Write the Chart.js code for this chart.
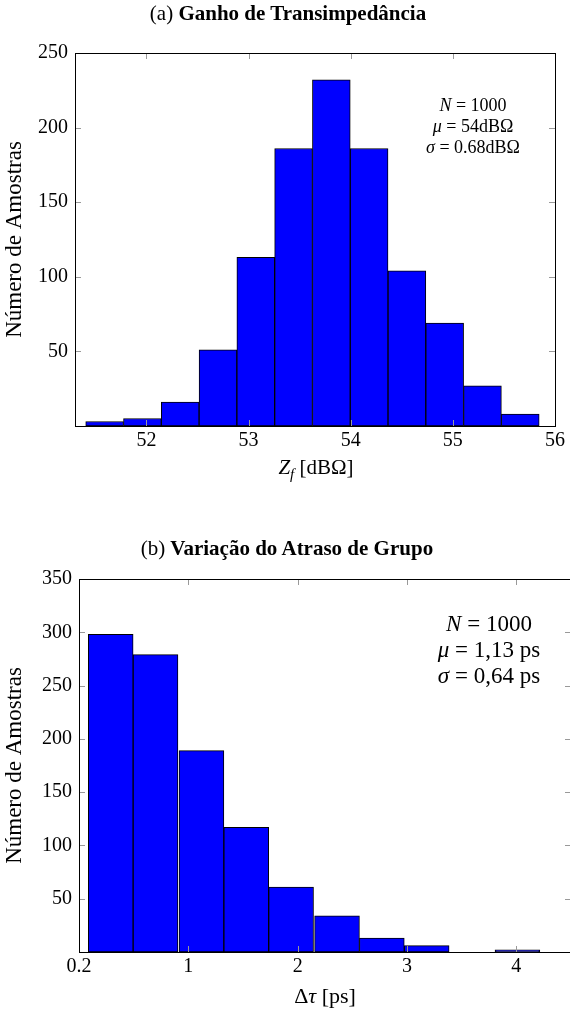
<!DOCTYPE html>
<html>
<head>
<meta charset="utf-8">
<script src="https://cdn.jsdelivr.net/npm/chart.js@4"></script>
<style>
  body { margin: 0; width: 570px; height: 1014px; overflow: hidden; background: #fff; position: relative; font-family: 'Liberation Serif', serif; }
  .box { position: absolute; left: 0; }
  .txt { position: absolute; color: #000; white-space: nowrap; transform: translate(-50%, -50%); font-size: 21px; }
  .title { font-weight: bold; font-size: 21px; }
  .title span { font-weight: normal; }
  .note { text-align: center; }
</style>
</head>
<body>
<div class="box" style="top:0; width:570px; height:500px;"><canvas id="gain"></canvas></div>
<div class="box" style="top:500px; width:580px; height:514px;"><canvas id="delay"></canvas></div>

<div class="txt title" style="left:288px; top:13px;"><span>(a)</span> Ganho de Transimpedância</div>
<div class="txt" style="left:316px; top:469px;"><i>Z</i><sub style="font-size:15px;"><i>f</i></sub> [dBΩ]</div>
<div class="txt note" style="left:473px; top:126px; font-size:18px; line-height:21px;"><i>N</i> = 1000<br><i>μ</i> = 54dBΩ<br><i>σ</i> = 0.68dBΩ</div>

<div class="txt title" style="left:287px; top:548px;"><span>(b)</span> Variação do Atraso de Grupo</div>
<div class="txt" style="left:325px; top:996px; font-size:22px;">Δ<i>τ</i> [ps]</div>
<div class="txt note" style="left:489px; top:650px; font-size:23px; line-height:26px;"><i>N</i> = 1000<br><i>μ</i> = 1,13 ps<br><i>σ</i> = 0,64 ps</div>

<script>
// (a) transimpedance gain histogram
const gainCenters = [51.59, 51.96, 52.33, 52.70, 53.07, 53.44, 53.81, 54.18, 54.55, 54.92, 55.29, 55.66];
const gainCounts = [3, 5, 16, 51, 113, 186, 232, 186, 104, 69, 27, 8];
const gainTicksX = [52, 53, 54, 55, 56];
const gainTickLabelsX = ['52', '53', '54', '55', '56'];
const gainTicksY = [50, 100, 150, 200, 250];

// (b) group delay variation histogram
const delayCenters = [0.29, 0.70, 1.12, 1.53, 1.94, 2.36, 2.77, 3.18, 3.59, 4.01];
const delayCounts = [298, 279, 189, 117, 61, 34, 13, 6, 0, 2];
const delayTicksX = [0, 1, 2, 3, 4];
const delayTickLabelsX = ['0.2', '1', '2', '3', '4'];
const delayTicksY = [50, 100, 150, 200, 250, 300, 350];

Chart.defaults.font.family = "'Liberation Serif', serif";
Chart.defaults.font.size = 20;
Chart.defaults.color = '#000';

// pgfplots-like frame with inward ticks on all four sides
const frameTicks = {
    id: 'frameTicks',
    afterDraw(chart) {
        const { ctx, chartArea: a, scales: { x, y } } = chart;
        const len = 6;
        ctx.save();
        ctx.strokeStyle = '#999';
        ctx.lineWidth = 1;
        ctx.beginPath();
        x.ticks.forEach(t => {
            const px = Math.round(x.getPixelForValue(t.value)) + 0.5;
            ctx.moveTo(px, a.bottom); ctx.lineTo(px, a.bottom - len);
            ctx.moveTo(px, a.top); ctx.lineTo(px, a.top + len);
        });
        y.ticks.forEach(t => {
            const py = Math.round(y.getPixelForValue(t.value)) + 0.5;
            ctx.moveTo(a.left, py); ctx.lineTo(a.left + len, py);
            ctx.moveTo(a.right, py); ctx.lineTo(a.right - len, py);
        });
        ctx.stroke();
        ctx.strokeStyle = '#000';
        ctx.strokeRect(Math.round(a.left) + 0.5, Math.round(a.top) + 0.5,
            Math.round(a.right - a.left), Math.round(a.bottom - a.top));
        ctx.restore();
    }
};

function histogram(id, centers, counts, cfg) {
    const ctx = document.getElementById(id).getContext('2d');
    return new Chart(ctx, {
        type: 'bar',
        data: {
            datasets: [{
                data: centers.map((c, i) => ({ x: c, y: counts[i] })),
                backgroundColor: '#0000ff',
                borderColor: '#000',
                borderWidth: 1,
                borderSkipped: false,
                barPercentage: 1,
                categoryPercentage: 1
            }]
        },
        options: {
            responsive: true,
            maintainAspectRatio: false,
            animation: false,
            layout: { padding: cfg.padding },
            scales: {
                x: {
                    type: 'linear',
                    offset: false,
                    min: cfg.xMin,
                    max: cfg.xMax,
                    grid: { display: false, drawTicks: false },
                    border: { display: false },
                    afterBuildTicks: s => { s.ticks = cfg.ticksX.map(v => ({ value: v })); },
                    afterFit: s => { s.height = cfg.xHeight; },
                    ticks: {
                        padding: 3,
                        maxRotation: 0,
                        callback: (v, i) => cfg.tickLabelsX[i]
                    }
                },
                y: {
                    min: 0,
                    max: cfg.yMax,
                    grid: { display: false, drawTicks: false },
                    border: { display: false },
                    afterBuildTicks: s => { s.ticks = cfg.ticksY.map(v => ({ value: v })); },
                    afterFit: s => { s.width = cfg.yWidth; },
                    ticks: { padding: 7 },
                    title: {
                        display: true,
                        text: 'Número de Amostras',
                        font: { size: 23 },
                        padding: { top: 1, bottom: 0 }
                    }
                }
            },
            plugins: {
                legend: { display: false },
                tooltip: { enabled: false }
            }
        },
        plugins: [frameTicks]
    });
}

histogram('gain', gainCenters, gainCounts, {
    padding: { top: 53, right: 15, bottom: 0, left: 0 },
    xMin: 51.3, xMax: 56, yMax: 250,
    ticksX: gainTicksX, tickLabelsX: gainTickLabelsX, ticksY: gainTicksY,
    xHeight: 74, yWidth: 75
});

histogram('delay', delayCenters, delayCounts, {
    padding: { top: 79, right: 9, bottom: 0, left: 0 },
    xMin: 0, xMax: 4.5, yMax: 350,
    ticksX: delayTicksX, tickLabelsX: delayTickLabelsX, ticksY: delayTicksY,
    xHeight: 62, yWidth: 79
});
</script>
</body>
</html>
